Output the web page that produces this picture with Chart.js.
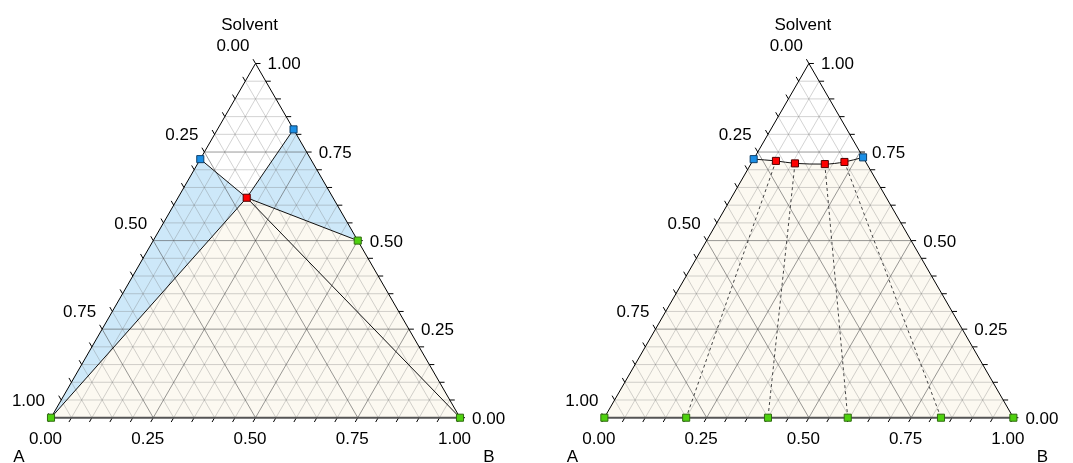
<!DOCTYPE html>
<html>
<head>
<meta charset="utf-8">
<script src="https://cdn.jsdelivr.net/npm/chart.js@4.4.1/dist/chart.umd.min.js"></script>
<style>
  body { margin: 0; background: #fff; }
</style>
</head>
<body>
<canvas id="tern" width="1073" height="463"></canvas>
<script>
// axis ticks (same on all three sides)
const tickValues = [0, 0.25, 0.5, 0.75, 1];
const tickLabels = ['0.00', '0.25', '0.50', '0.75', '1.00'];
const apexTitle = 'Solvent';
const cornerA = 'A';
const cornerB = 'B';

// compositions as [B fraction, Solvent fraction], A = 1 - B - Solvent
const leftBlue = [[0.00, 0.73], [0.186, 0.814]];
const leftRed = [[0.168, 0.621]];
const leftGreen = [[0.00, 0.00], [0.50, 0.50], [1.00, 0.00]];

const rightBlue = [[0.00, 0.73], [0.265, 0.735]];
const rightRed = [[0.057, 0.725], [0.107, 0.718], [0.181, 0.716], [0.226, 0.722]];
const rightGreen = [[0.00, 0.00], [0.20, 0.00], [0.40, 0.00], [0.595, 0.00], [0.823, 0.00], [1.00, 0.00]];

// ---- geometry helpers ----
const SQ = Math.sqrt(3) / 2;
const PX = 409;               // pixels per unit side
const offL = 0, offR = 1.353; // x offset of each triangle
const GAP = { x: null, y: null };
const tickLen = 5 / PX;

function pt(b, s, off) { return { x: off + b + s / 2, y: s * SQ }; }
function pts(list, off) { return list.map(c => pt(c[0], c[1], off)); }

function gridData(off, major) {
  const d = [];
  for (let k = 1; k < 20; k++) {
    if ((k % 5 === 0) !== major) continue;
    const v = k / 20;
    d.push(pt(0, v, off), pt(1 - v, v, off), GAP);
    d.push(pt(v, 0, off), pt(v, 1 - v, off), GAP);
    d.push(pt(1 - v, 0, off), pt(0, 1 - v, off), GAP);
  }
  return d;
}

function tickData(off) {
  const d = [];
  for (let k = 0; k <= 20; k++) {
    const v = k / 20;
    let p = pt(v, 0, off);            // B axis, bottom
    d.push(p, { x: p.x - tickLen / 2, y: p.y - tickLen * SQ }, GAP);
    p = pt(1 - v, v, off);            // Solvent axis, right
    d.push(p, { x: p.x + tickLen, y: p.y }, GAP);
    p = pt(0, 1 - v, off);            // A axis, left
    d.push(p, { x: p.x - tickLen / 2, y: p.y + tickLen * SQ }, GAP);
  }
  return d;
}

function sideData(off) {
  return [pt(0, 0, off), pt(0, 1, off), pt(1, 0, off)];
}

function lineSet(data, color, width, order, extra) {
  return Object.assign({
    data, showLine: true, borderColor: color, borderWidth: width,
    pointRadius: 0, fill: false, order, spanGaps: false
  }, extra || {});
}

function fillSet(data, color, order, extra) {
  return Object.assign({
    data, showLine: true, borderWidth: 0, borderColor: 'rgba(0,0,0,0)',
    backgroundColor: color, pointRadius: 0, fill: 'shape', order
  }, extra || {});
}

function markerSet(data, fillCol, edgeCol) {
  return {
    data, showLine: false, pointStyle: 'rect', pointRadius: 5,
    backgroundColor: fillCol, borderColor: edgeCol, borderWidth: 1, order: 0
  };
}

const cream = '#fcf9f1';
const blueFill = '#cde8f9';
const minorCol = 'rgba(110,110,110,0.30)';
const majorCol = 'rgba(70,70,70,0.55)';

// left plot points
const lA = pt(0, 0, offL), lB = pt(1, 0, offL);
const lBlue = pts(leftBlue, offL), lRed = pts(leftRed, offL), lGreen = pts(leftGreen, offL);
// right plot points
const rA = pt(0, 0, offR), rB = pt(1, 0, offR), rT = pt(0, 1, offR);
const rBlue = pts(rightBlue, offR), rRed = pts(rightRed, offR), rGreen = pts(rightGreen, offR);
const rCurve = [rBlue[0], ...rRed, rBlue[1]];

const datasets = [
  // background fills
  fillSet([lA, lB, lBlue[1], lRed[0], lBlue[0], lA], cream, 7),
  fillSet([rA, rB, rT, rA], cream, 7),
  lineSet(rCurve, 'rgba(0,0,0,0)', 0, 6, { fill: 'end', backgroundColor: '#ffffff', cubicInterpolationMode: 'monotone' }),
  fillSet([lA, lBlue[0], lRed[0], lA], blueFill, 5),
  fillSet([lBlue[1], lRed[0], lGreen[1], lBlue[1]], blueFill, 5),
  // grids
  lineSet(gridData(offL, false), minorCol, 1, 4),
  lineSet(gridData(offR, false), minorCol, 1, 4),
  lineSet(gridData(offL, true), majorCol, 1, 3),
  lineSet(gridData(offR, true), majorCol, 1, 3),
  // frames and ticks
  lineSet(sideData(offL), '#000', 1, 2),
  lineSet(sideData(offR), '#000', 1, 2),
  lineSet([lA, lB], '#555', 2, 2),
  lineSet([rA, rB], '#555', 2, 2),
  lineSet(tickData(offL), '#000', 1, 2),
  lineSet(tickData(offR), '#000', 1, 2),
  // left: phase boundaries
  lineSet([lBlue[0], lRed[0], lBlue[1], GAP, lA, lRed[0], lGreen[1], GAP, lRed[0], lB], '#111', 1, 1),
  // right: binodal curve and tie lines
  lineSet(rCurve, '#111', 1, 1, { cubicInterpolationMode: 'monotone' }),
  lineSet(rRed.flatMap((p, i) => [p, rGreen[i + 1], GAP]), '#444', 1, 1, { borderDash: [3, 3] }),
  // markers
  markerSet(lGreen, '#4fd10f', '#2f6a10'),
  markerSet(lBlue, '#1b8fe6', '#10406a'),
  markerSet(lRed, '#ff0000', '#500000'),
  markerSet(rGreen, '#4fd10f', '#2f6a10'),
  markerSet(rBlue, '#1b8fe6', '#10406a'),
  markerSet(rRed, '#ff0000', '#500000')
];

const labelPlugin = {
  id: 'ternaryLabels',
  afterDatasetsDraw(chart) {
    const { ctx, scales: { x, y } } = chart;
    const px = p => ({ x: x.getPixelForValue(p.x), y: y.getPixelForValue(p.y) });
    ctx.save();
    ctx.fillStyle = '#000';
    ctx.font = '17px "Liberation Sans", Arial, sans-serif';
    ctx.textBaseline = 'alphabetic';
    [offL, offR].forEach(off => {
      tickValues.forEach((v, i) => {
        // bottom (B)
        let p = px(pt(v, 0, off));
        ctx.textAlign = 'center';
        ctx.fillText(tickLabels[i], p.x - 5.5, p.y + 26);
        // right (Solvent)
        p = px(pt(1 - v, v, off));
        ctx.textAlign = 'left';
        ctx.fillText(tickLabels[i], p.x + 12, p.y + 6);
        // left (A)
        p = px(pt(0, 1 - v, off));
        ctx.textAlign = 'right';
        ctx.fillText(tickLabels[i], p.x - 6, p.y - 12);
      });
      const t = px(pt(0, 1, off)), a = px(pt(0, 0, off)), b = px(pt(1, 0, off));
      ctx.textAlign = 'center';
      ctx.fillText(apexTitle, t.x - 6, 30);
      ctx.fillText(cornerA, a.x - 32, 462);
      ctx.fillText(cornerB, b.x + 29, 462);
    });
    ctx.restore();
  }
};

new Chart(document.getElementById('tern'), {
  type: 'scatter',
  data: { datasets },
  options: {
    responsive: false,
    animation: false,
    events: [],
    layout: { padding: 0, autoPadding: false },
    plugins: { legend: { display: false }, tooltip: { enabled: false } },
    scales: {
      x: { type: 'linear', display: false, min: -51 / PX, max: (1073 - 51) / PX },
      y: { type: 'linear', display: false, min: -(463 - 417.7) / PX, max: 417.7 / PX }
    }
  },
  plugins: [labelPlugin]
});
</script>
</body>
</html>
